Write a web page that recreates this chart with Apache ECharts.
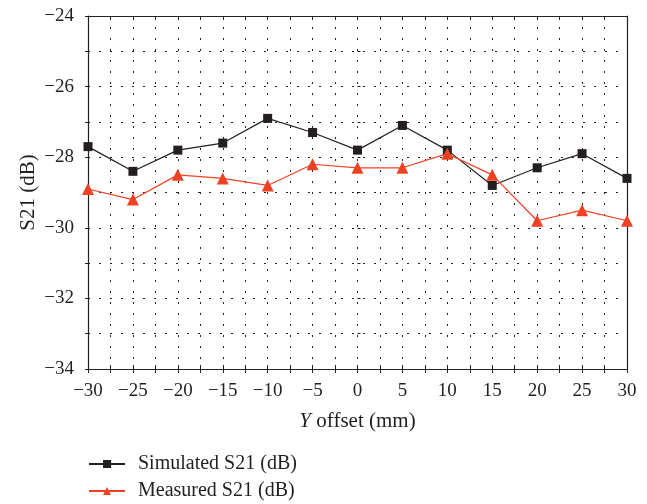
<!DOCTYPE html>
<html>
<head>
<meta charset="utf-8">
<script src="https://cdn.jsdelivr.net/npm/echarts@6/dist/echarts.min.js"></script>
<style>html,body{margin:0;padding:0;background:#fff;}#c{width:647px;height:504px;}</style>
</head>
<body>
<div id="c"></div>
<script>
const xOffsets = [-30, -25, -20, -15, -10, -5, 0, 5, 10, 15, 20, 25, 30];
const simulated = [-27.7, -28.4, -27.8, -27.6, -26.9, -27.3, -27.8, -27.1, -27.8, -28.8, -28.3, -27.9, -28.6];
const measured = [-28.9, -29.2, -28.5, -28.6, -28.8, -28.2, -28.3, -28.3, -27.9, -28.5, -29.8, -29.5, -29.8];
const seriesNames = ['Simulated S21 (dB)', 'Measured S21 (dB)'];
const xName = 'offset (mm)';
const yName = 'S21 (dB)';

const FONT = 'Liberation Serif';
const INK = '#231f20';
const RED = '#ef4123';
const minus = v => String(v).replace('-', '\u2212');

const chart = echarts.init(document.getElementById('c'), null, {renderer: 'canvas'});
const dash = {color: '#222', width: 1, type: [2, 9]};
const axisLine = {show: true, onZero: false, lineStyle: {color: INK, width: 1.2}};

chart.setOption({
  animation: false,
  backgroundColor: '#fff',
  grid: {left: 88, top: 16, right: 20, bottom: 135},
  legend: {
    orient: 'vertical', left: 88, top: 454, padding: 0, itemWidth: 36, itemHeight: 10, itemGap: 7,
    textStyle: {fontFamily: FONT, fontSize: 20, lineHeight: 20, color: INK, padding: [0, 0, 0, 8]},
    data: seriesNames
  },
  xAxis: [
    {
      type: 'value', min: -30, max: 30, interval: 5, position: 'bottom',
      axisLine: axisLine,
      axisTick: {show: true, inside: false, length: 4, lineStyle: {color: INK}},
      minorTick: {show: true, splitNumber: 2, length: 4, lineStyle: {color: INK}},
      axisLabel: {fontFamily: FONT, fontSize: 19, color: INK, margin: 13, formatter: minus},
      splitLine: {show: true, lineStyle: dash},
      minorSplitLine: {show: true, lineStyle: dash},
      name: '{i|Y} ' + xName, nameLocation: 'middle', nameGap: 42,
      nameTextStyle: {fontFamily: FONT, fontSize: 21, color: INK,
        rich: {i: {fontFamily: FONT, fontSize: 21, fontStyle: 'italic', color: INK}}}
    },
    {
      type: 'value', min: -30, max: 30, interval: 5, position: 'top',
      axisLine: axisLine,
      axisTick: {show: true, inside: true, length: 4, lineStyle: {color: INK}},
      minorTick: {show: true, splitNumber: 2, length: 4, lineStyle: {color: INK}},
      axisLabel: {show: false}, splitLine: {show: false}
    },
    {
      type: 'value', min: -30, max: 30, interval: 5, position: 'bottom',
      axisLine: {show: false},
      axisTick: {show: true, inside: true, length: 4, lineStyle: {color: INK}},
      minorTick: {show: true, splitNumber: 2, length: 4, lineStyle: {color: INK}},
      axisLabel: {show: false}, splitLine: {show: false}
    }
  ],
  yAxis: [
    {
      type: 'value', min: -34, max: -24, interval: 2, position: 'left',
      axisLine: axisLine,
      axisTick: {show: true, inside: false, length: 3, lineStyle: {color: INK}},
      minorTick: {show: true, splitNumber: 2, length: 3, lineStyle: {color: INK}},
      axisLabel: {fontFamily: FONT, fontSize: 19, color: INK, margin: 14, formatter: minus},
      splitLine: {show: true, lineStyle: dash},
      minorSplitLine: {show: true, lineStyle: dash},
      name: yName, nameLocation: 'middle', nameGap: 49, nameRotate: 90, nameMoveOverlap: false,
      nameTextStyle: {fontFamily: FONT, fontSize: 21, color: INK}
    },
    {
      type: 'value', min: -34, max: -24, interval: 2, position: 'left',
      axisLine: {show: false},
      axisTick: {show: true, inside: true, length: 3, lineStyle: {color: INK}},
      minorTick: {show: true, splitNumber: 2, length: 3, lineStyle: {color: INK}},
      axisLabel: {show: false}, splitLine: {show: false}
    },
    {
      type: 'value', min: -34, max: -24, interval: 2, position: 'right',
      axisLine: axisLine, axisTick: {show: false},
      axisLabel: {show: false}, splitLine: {show: false}
    }
  ],
  series: [
    {
      name: seriesNames[0], type: 'line', xAxisIndex: 0, yAxisIndex: 0,
      data: xOffsets.map((x, i) => [x, simulated[i]]),
      symbol: 'rect', symbolSize: 9,
      lineStyle: {color: INK, width: 1.2},
      itemStyle: {color: INK}
    },
    {
      name: seriesNames[1], type: 'line', xAxisIndex: 0, yAxisIndex: 0,
      data: xOffsets.map((x, i) => [x, measured[i]]),
      symbol: 'triangle', symbolSize: 12,
      lineStyle: {color: RED, width: 1.2},
      itemStyle: {color: RED}
    }
  ]
});
</script>
</body>
</html>
